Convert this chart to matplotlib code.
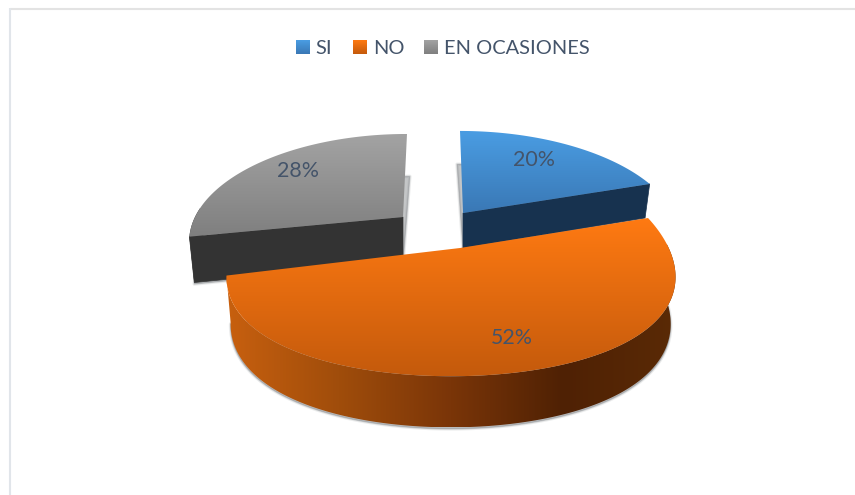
import numpy as np
import matplotlib
matplotlib.use('Agg')
import matplotlib.pyplot as plt
from matplotlib.colors import to_rgb
from matplotlib.patches import Polygon

plt.rcParams['font.family'] = ['Lato', 'DejaVu Sans']

# data
categories = ['SI', 'NO', 'EN OCASIONES']
percent = [20, 52, 28]

# look of each slice, in picture pixels: centre x, centre y, rx, ry, kx, ky, lean, depth
geometry = [(463, 213, 211, 100.6, 0.226, 0.226, -3, 35),
            (451, 253.5, 220, 116.6, 0.20, 0.05, 0, 46),
            (403, 217, 208, 100.8, 0.214, 0.214, 4, 45)]
hubs = [(463, 213), (460, 248), (403, 217)]   # where the slice edges meet
top_colors = [('#4a9de3', '#3a78b5'), ('#ff7a12', '#c45a0c'), ('#a3a3a3', '#7f7f7f')]
side_colors = [['#17324f', '#17324f'],
               ['#c8600f', '#a04d0b', '#7a3508', '#4f2104', '#5a2a06'],
               ['#333333', '#333333']]
cut_edge = ['theta1', None, 'theta2']   # which flat side faces the viewer
label_pos = [(534, 160), (512, 338), (298, 171)]
legend_x = [(296, 315), (353, 373), (424, 444)]
text_color = '#44546a'

fig = plt.figure(figsize=(8.55, 4.95), dpi=100)
ax = fig.add_axes([0, 0, 1, 1])

# the pie gives the angle of each slice, the tilted look is projected from them
wedges, _ = ax.pie(percent, startangle=90, counterclock=False)
angles = [(w.theta1, w.theta2) for w in wedges]
for w in wedges:
    w.remove()

ax.set_aspect('auto')
ax.set_xlim(0, 855)
ax.set_ylim(495, 0)
ax.axis('off')


def project(a, geo, bottom=False):
    ax0, ay0, rx, ry, kx, ky, lean, depth = geo
    u = np.cos(np.radians(a))
    v = np.sin(np.radians(a))
    x = ax0 + rx * u / (1 + kx * v) + lean * v
    y = ay0 - ry * v / (1 + ky * v)
    if bottom:
        c = 0.02 + 0.09 * np.clip(v - 0.3, 0, None) / 0.7
        x = x + (433 - x) * c
        y = y + depth / (1 + 0.1 * v)
    return np.column_stack([x, y])


def gradient(poly, colors, horizontal, zorder):
    # fill a polygon with a linear gradient, clipped by the polygon itself
    x0, y0 = poly.min(axis=0)
    x1, y1 = poly.max(axis=0)
    stops = np.array([to_rgb(c) for c in colors])
    t = np.linspace(0, 1, 256)
    pos = np.linspace(0, 1, len(colors))
    ramp = np.column_stack([np.interp(t, pos, stops[:, i]) for i in range(3)])
    img = ramp[None, :, :] if horizontal else ramp[:, None, :]
    im = ax.imshow(img, extent=(x0, x1, y1, y0), origin='upper', aspect='auto',
                   interpolation='bilinear', zorder=zorder)
    clip = Polygon(poly, closed=True, transform=ax.transData, fc='none', ec='none')
    ax.add_patch(clip)
    im.set_clip_path(clip)


# gray and blue go first, the big slice overlaps both
for order, i in enumerate([2, 0, 1]):
    geo = geometry[i]
    t1, t2 = angles[i]
    base = order * 10 + 2
    arc = np.linspace(t1, t2, 200)
    hub_top = np.array([hubs[i]], dtype=float)
    hub_bot = hub_top + [0, geo[7]]
    top = np.vstack([hub_top, project(arc, geo)])
    low = np.vstack([hub_bot, project(arc, geo, bottom=True)])

    # soft shadow that peeks out round the base
    for lw, alpha in [(2.5, 0.15), (1, 0.35)]:
        ax.add_patch(Polygon(low + [0, 1.5], closed=True, fc='#7c8084', ec='#7c8084',
                             lw=lw, alpha=alpha, zorder=base, joinstyle='round'))

    # the rim only shows on the near half of the slice
    near = arc[np.sin(np.radians(arc)) < 0.1]
    if len(near) > 1:
        outer = np.vstack([project(near, geo), project(near[::-1], geo, bottom=True)])
        gradient(outer, side_colors[i], True, base + 1)

    if cut_edge[i] is not None:
        a = t1 if cut_edge[i] == 'theta1' else t2
        face = np.vstack([hub_top, project(a, geo), project(a, geo, bottom=True), hub_bot])
        ax.add_patch(Polygon(face, closed=True, fc=side_colors[i][0], ec=side_colors[i][0],
                             lw=0.5, zorder=base + 2))

    gradient(top, top_colors[i], False, base + 3)

for (x, y), p in zip(label_pos, percent):
    ax.text(x, y, f'{p}%', color=text_color, fontsize=15.4, ha='center', va='center', zorder=50)

# legend
for (sx, tx), name, cols in zip(legend_x, categories, top_colors):
    swatch = np.array([[sx, 40], [sx + 14, 40], [sx + 14, 54], [sx, 54]], dtype=float)
    gradient(swatch, cols, False, 50)
    ax.text(tx, 54, name, color=text_color, fontsize=14.4, ha='left', va='baseline', zorder=50)

# chart frame, only the top and left edges show
ax.plot([10, 855], [9, 9], color='#e3e3e3', lw=1.5, zorder=1, solid_capstyle='butt')
ax.plot([10, 10], [8, 495], color='#e1e5ea', lw=1.5, zorder=1, solid_capstyle='butt')

ax.set_xlim(0, 855)
ax.set_ylim(495, 0)
fig.savefig('out.png', dpi=100)
